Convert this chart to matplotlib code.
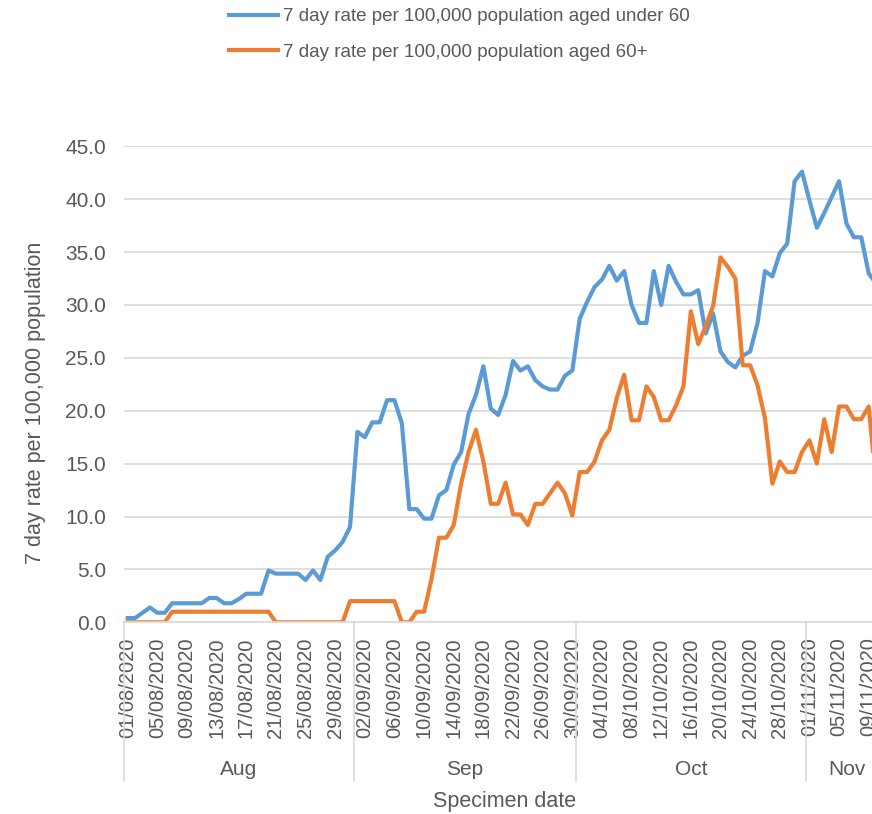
import numpy as np
import pandas as pd
import matplotlib
matplotlib.use("Agg")
import matplotlib.pyplot as plt
from matplotlib.transforms import blended_transform_factory

plt.rcParams['font.family'] = ['Liberation Sans', 'DejaVu Sans']

# Daten: 7-Tage-Rate je 100.000 Einwohner, ab 01/08/2020 taeglich
start_date = "2020-08-01"
under_60 = [0.4, 0.4, 0.9, 1.4, 0.9, 0.9, 1.8, 1.8, 1.8, 1.8,
            1.8, 2.3, 2.3, 1.8, 1.8, 2.2, 2.7, 2.7, 2.7, 4.9,
            4.6, 4.6, 4.6, 4.6, 4.0, 4.9, 4.0, 6.2, 6.8, 7.6,
            9.0, 18.0, 17.5, 18.9, 18.9, 21.0, 21.0, 18.8, 10.7, 10.7,
            9.8, 9.8, 12.0, 12.5, 14.9, 16.1, 19.7, 21.5, 24.2, 20.2,
            19.6, 21.5, 24.7, 23.8, 24.2, 22.9, 22.3, 22.0, 22.0, 23.3,
            23.8, 28.7, 30.3, 31.7, 32.4, 33.7, 32.3, 33.2, 30.0, 28.3,
            28.3, 33.2, 30.0, 33.7, 32.2, 31.0, 31.0, 31.4, 27.3, 29.2,
            25.6, 24.6, 24.1, 25.2, 25.6, 28.3, 33.2, 32.7, 34.9, 35.8,
            41.7, 42.6, 39.9, 37.3, 38.7, 40.2, 41.7, 37.7, 36.4, 36.4,
            33.0, 32.0]
aged_60_plus = [0.0, 0.0, 0.0, 0.0, 0.0, 0.0, 1.0, 1.0, 1.0, 1.0,
                1.0, 1.0, 1.0, 1.0, 1.0, 1.0, 1.0, 1.0, 1.0, 1.0,
                0.0, 0.0, 0.0, 0.0, 0.0, 0.0, 0.0, 0.0, 0.0, 0.0,
                2.0, 2.0, 2.0, 2.0, 2.0, 2.0, 2.0, 0.0, 0.0, 1.0,
                1.0, 4.1, 8.0, 8.0, 9.2, 13.1, 16.1, 18.2, 15.2, 11.2,
                11.2, 13.2, 10.2, 10.2, 9.2, 11.2, 11.2, 12.2, 13.2, 12.2,
                10.1, 14.2, 14.2, 15.2, 17.2, 18.2, 21.2, 23.4, 19.1, 19.1,
                22.3, 21.3, 19.1, 19.1, 20.5, 22.3, 29.4, 26.3, 28.0, 29.9,
                34.5, 33.6, 32.5, 24.3, 24.3, 22.4, 19.3, 13.1, 15.2, 14.2,
                14.2, 16.1, 17.2, 15.0, 19.2, 16.1, 20.4, 20.4, 19.2, 19.2,
                20.4, 13.2]
months = ["Aug", "Sep", "Oct", "Nov"]
n_slots = 103  # Diagramm geht rechts ueber den Rand hinaus

dates = pd.date_range(start_date, periods=n_slots, freq="D")
x = np.arange(len(under_60))

grey = "#595959"
fig = plt.figure(figsize=(8.72, 8.14), dpi=100)
ax = fig.add_axes([124 / 872, 1 - 622.3 / 814, n_slots * 7.41 / 872, 476 / 814])

ax.plot(x, under_60, color="#5B9BD5", lw=3.0, solid_joinstyle="round",
        label="7 day rate per 100,000 population aged under 60")
ax.plot(x, aged_60_plus, color="#ED7D31", lw=3.0, solid_joinstyle="round",
        label="7 day rate per 100,000 population aged 60+")

ax.set_xlim(-0.5, n_slots - 0.5)
ax.set_ylim(0, 45)
ax.set_yticks(np.arange(0, 46, 5))
ax.set_yticklabels(["%.1f" % v for v in np.arange(0, 46, 5)])
ax.yaxis.grid(True, color="#D9D9D9", lw=1.2)
ax.set_axisbelow(True)
for s in ["top", "right", "left"]:
    ax.spines[s].set_visible(False)
ax.spines["bottom"].set_color("#D9D9D9")
ax.spines["bottom"].set_linewidth(1.2)

ticks = list(range(0, len(under_60), 4))
ax.set_xticks(ticks)
ax.set_xticklabels([dates[i].strftime("%d/%m/%Y") for i in ticks], rotation=90)
ax.tick_params(axis="x", length=0, pad=11, labelsize=14.5, labelcolor=grey)
ax.tick_params(axis="y", length=0, pad=13, labelsize=15, labelcolor=grey)

# Monatsgruppen unter den Datumsangaben
trans = blended_transform_factory(ax.transData, ax.transAxes)
month_idx = dates.month
starts = [0] + [i for i in range(1, n_slots) if month_idx[i] != month_idx[i - 1]]
ends = starts[1:] + [n_slots]
for m, s, e in zip(months, starts, ends):
    ax.plot([s - 0.5, s - 0.5], [0, -0.333], color="#D9D9D9", lw=1.2,
            transform=trans, clip_on=False)
    ax.text((s + e - 1) / 2, -0.31, m, transform=trans, ha="center", va="center",
            fontsize=15, color=grey)

ax.set_xlabel("Specimen date", fontsize=15.5, color=grey)
ax.set_ylabel("7 day rate per 100,000 population", fontsize=15.5, color=grey)
ax.yaxis.set_label_coords(-0.102, 0.461)
ax.xaxis.set_label_coords((505 - 124) / (n_slots * 7.41), (622.3 - 791) / 476)

fig.legend(loc="upper left", bbox_to_anchor=(229 / 872, 1 - 8 / 814), frameon=False,
           fontsize=13.5, labelcolor=grey, handlelength=2.6, handletextpad=0.3,
           borderpad=0, borderaxespad=0, labelspacing=1.0)

fig.savefig("out.png", dpi=100)
